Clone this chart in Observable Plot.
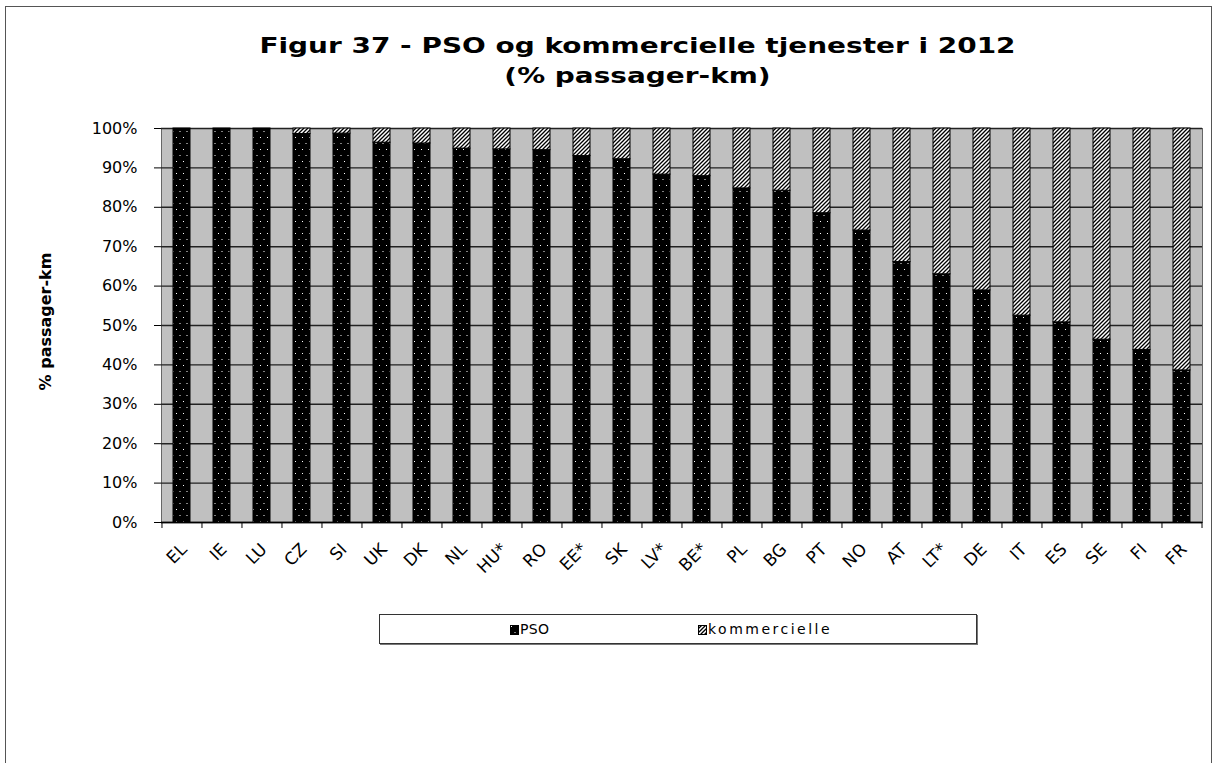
<!DOCTYPE html>
<html>
<head>
<meta charset="utf-8">
<script src="https://cdn.jsdelivr.net/npm/d3@7"></script>
<script src="https://cdn.jsdelivr.net/npm/@observablehq/plot@0.6"></script>
<style>
  html, body { margin: 0; padding: 0; background: #fff; overflow: hidden; }
  body { width: 1215px; height: 763px; position: relative; font-family: "DejaVu Sans", Verdana, sans-serif; }
  #frame { position: absolute; left: 5px; top: 6px; width: 1207px; height: 800px; border: 1px solid #555; box-sizing: border-box; }
  #title { position: absolute; left: 30px; top: 31px; width: 1215px; text-align: center; font-weight: bold; font-size: 22px; line-height: 30px; color: #000; transform: scaleX(1.27); transform-origin: 50% 50%; }
  #chart { position: absolute; left: 0; top: 100px; }
  #legend { position: absolute; left: 379px; top: 614px; width: 598px; height: 30px; border: 1px solid #333; box-sizing: border-box; background: #fff; box-shadow: 1px 1px 0 #777; font-size: 14px; color: #000; }
  .item { position: absolute; top: 5px; line-height: 18px; white-space: nowrap; }
  .item svg { vertical-align: -1px; margin-right: 1px; }
</style>
</head>
<body>
<div id="frame"></div>
<div id="title">Figur 37 - PSO og kommercielle tjenester i 2012<br>(% passager-km)</div>
<div id="chart"></div>
<div id="legend">
  <div class="item" style="left:130px; letter-spacing:0.3px"><svg width="9" height="10"><rect x="0.5" y="0.5" width="8" height="9" fill="url(#dots)" stroke="#000"/></svg>PSO</div>
  <div class="item" style="left:318px; letter-spacing:2.5px"><svg width="9" height="10"><rect x="0.5" y="0.5" width="8" height="9" fill="url(#hatch)" stroke="#000"/></svg>kommercielle</div>
</div>
<script>
const countries = ["EL","IE","LU","CZ","SI","UK","DK","NL","HU*","RO","EE*","SK","LV*","BE*","PL","BG","PT","NO","AT","LT*","DE","IT","ES","SE","FI","FR"];
const pso = [100,100,100,98.6,98.7,96.4,96.2,94.9,94.7,94.5,93.0,92.2,88.3,87.9,84.8,84.2,78.5,74.1,66.1,63.0,58.9,52.5,50.8,46.4,43.8,38.6];
const kommercielle = [0,0,0,1.4,1.3,3.6,3.8,5.1,5.3,5.5,7.0,7.8,11.7,12.1,15.2,15.8,21.5,25.9,33.9,37.0,41.1,47.5,49.2,53.6,56.2,61.4];
const seriesNames = ["PSO", "kommercielle"];
const yTicks = [0,10,20,30,40,50,60,70,80,90,100];
const yLabel = "% passager-km";

const rows = [];
countries.forEach((c, i) => {
  rows.push({country: c, type: seriesNames[0], value: pso[i]});
  rows.push({country: c, type: seriesNames[1], value: kommercielle[i]});
});

const W = 1215, mL = 161, mR = 13;
const step = (W - mL - mR) / countries.length;

const chart = Plot.plot({
  width: W,
  height: 502,
  marginLeft: mL,
  marginRight: mR,
  marginTop: 28,
  marginBottom: 80,
  style: {fontFamily: "DejaVu Sans, Verdana, sans-serif", fontSize: "14px", color: "#000", background: "transparent"},
  x: {domain: countries, paddingInner: 0.575, paddingOuter: 0.2875, label: null},
  y: {domain: [0, 100], label: null},
  color: {domain: seriesNames, range: ["url(#dots)", "url(#hatch)"]},
  marks: [
    Plot.frame({fill: "#c0c0c0", stroke: "#666"}),
    Plot.gridY(yTicks, {stroke: "#222", strokeOpacity: 1, strokeWidth: 1.4}),
    Plot.barY(rows, Plot.stackY({x: "country", y: "value", fill: "type", stroke: "#000", strokeWidth: 1, order: seriesNames})),
    Plot.axisY({ticks: yTicks, tickFormat: d => d + "%", tickSize: 7, tickPadding: 17, label: null, stroke: "#000", fontSize: 16}),
    Plot.ruleY([0], {stroke: "#000", strokeWidth: 1.4}),
    Plot.axisX({ticks: countries, text: null, tickSize: 6, dx: -step / 2, stroke: "#000"}),
    Plot.axisX({ticks: countries.slice(-1), text: null, tickSize: 6, dx: step / 2, stroke: "#000"}),
    Plot.axisX({ticks: countries, tickSize: 0, tickPadding: 24, tickRotate: -45, dx: 2, label: null, fontSize: 17}),
    Plot.text([yLabel], {frameAnchor: "left", textAnchor: "middle", dx: -116, dy: -4, rotate: -90, fontWeight: "bold", fontSize: 16})
  ]
});

const defs = d3.select(chart).insert("defs", ":first-child");
const dots = defs.append("pattern").attr("id", "dots").attr("patternUnits", "userSpaceOnUse")
  .attr("width", 7).attr("height", 12);
dots.append("rect").attr("width", 7).attr("height", 12).attr("fill", "#000");
dots.append("rect").attr("x", 1).attr("y", 1).attr("width", 1).attr("height", 1).attr("fill", "#fff");
dots.append("rect").attr("x", 4.5).attr("y", 7).attr("width", 1).attr("height", 1).attr("fill", "#fff");
const hatch = defs.append("pattern").attr("id", "hatch").attr("patternUnits", "userSpaceOnUse")
  .attr("width", 4).attr("height", 4);
hatch.append("rect").attr("width", 4).attr("height", 4).attr("fill", "#fff");
hatch.append("path").attr("d", "M-1,1 L1,-1 M0,4 L4,0 M3,5 L5,3").attr("stroke", "#000").attr("stroke-width", 1.3);

document.getElementById("chart").appendChild(chart);
</script>
</body>
</html>
